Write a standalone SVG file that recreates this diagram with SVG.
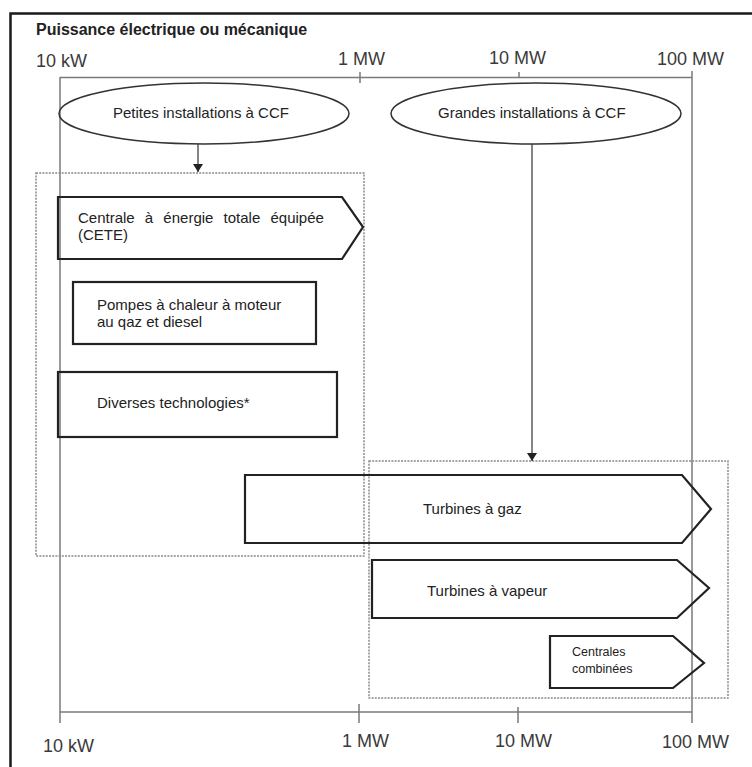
<svg xmlns="http://www.w3.org/2000/svg" width="752" height="767" viewBox="0 0 752 767">
<style>
  .frame{stroke:#1a1a1a;stroke-width:2.5;fill:none}
  .axis{stroke:#7a7a7a;stroke-width:1.5;fill:none}
  .dot{stroke:#8a8a8a;stroke-width:1.5;fill:none;stroke-dasharray:2 1.2}
  .shape{stroke:#222;stroke-width:2.2;fill:none;stroke-linejoin:miter}
  .ell{stroke:#333;stroke-width:1.5;fill:none}
  .conn{stroke:#333;stroke-width:1.2;fill:none}
  .t{font-family:"Liberation Sans",Arial,sans-serif;font-size:15px;fill:#222}
  .small{font-size:12.5px}
  .lbl{font-family:"Liberation Sans",Arial,sans-serif;font-size:18px;fill:#3a3a3a}
  .title{font-family:"Liberation Sans",Arial,sans-serif;font-size:16px;font-weight:bold;fill:#222}
</style>
<defs>
  <marker id="ah" viewBox="0 0 8 10" refX="8" refY="5" markerWidth="8" markerHeight="10" markerUnits="userSpaceOnUse" orient="auto">
    <path d="M0,0 L8,5 L0,10 Z" fill="#222"/>
  </marker>
</defs>
<rect width="752" height="767" fill="#fff"/>
<g id="frame">
  <path class="frame" d="M10.5,767 V13.5 H752"/>
  <text class="title" x="36" y="35">Puissance électrique ou mécanique</text>
</g>
<g id="axes">
  <path class="axis" d="M60,77.5 H692 M60,77 V723 M692,71 V723 M360,72 V83 M519,72 V77.5"/>
  <path class="axis" d="M60,712 H692 M359,704 V723 M518,707 V723"/>
  <text class="lbl" x="36" y="67">10 kW</text>
  <text class="lbl" x="338" y="65">1 MW</text>
  <text class="lbl" x="489" y="64">10 MW</text>
  <text class="lbl" x="657" y="65">100 MW</text>
  <text class="lbl" x="43" y="752">10 kW</text>
  <text class="lbl" x="342" y="747">1 MW</text>
  <text class="lbl" x="495" y="747">10 MW</text>
  <text class="lbl" x="662" y="748">100 MW</text>
</g>
<g id="group-small">
  <rect class="dot" x="36" y="173" width="328" height="383"/>
</g>
<g id="group-large">
  <rect class="dot" x="369" y="461" width="359" height="237"/>
</g>
<g id="petites">
  <ellipse class="ell" cx="204" cy="113.5" rx="145" ry="30.5"/>
  <text class="t" x="113" y="118">Petites installations à CCF</text>
</g>
<g id="grandes">
  <ellipse class="ell" cx="536" cy="113.5" rx="145" ry="30.5"/>
  <text class="t" x="438" y="118">Grandes installations à CCF</text>
</g>
<g id="cete">
  <path class="shape" d="M58,197 H342 L363,227 L342,259 H58 Z"/>
  <text class="t" x="78" y="223" word-spacing="6">Centrale à énergie totale équipée</text>
  <text class="t" x="78" y="240">(CETE)</text>
</g>
<g id="pompes">
  <rect class="shape" x="73" y="282" width="243" height="62"/>
  <text class="t" x="97" y="310">Pompes à chaleur à moteur</text>
  <text class="t" x="97" y="327">au qaz et diesel</text>
</g>
<g id="diverses">
  <rect class="shape" x="58" y="372" width="279" height="65"/>
  <text class="t" x="97" y="408">Diverses technologies*</text>
</g>
<g id="turbines-gaz">
  <path class="shape" d="M245,475 H682 L711,509 L682,543 H245 Z"/>
  <text class="t" x="423" y="514">Turbines à gaz</text>
</g>
<g id="turbines-vapeur">
  <path class="shape" d="M372,560 H677 L709,588 L677,618 H372 Z"/>
  <text class="t" x="427" y="596">Turbines à vapeur</text>
</g>
<g id="centrales-combinees">
  <path class="shape" d="M550,636 H673 L704,663 L673,688 H550 Z"/>
  <text class="t small" x="572" y="656">Centrales</text>
  <text class="t small" x="572" y="673">combinées</text>
</g>
<g id="connectors">
  <path class="conn" d="M198,144 V172" marker-end="url(#ah)"/>
  <path class="conn" d="M532,144 V461" marker-end="url(#ah)"/>
</g>
</svg>
